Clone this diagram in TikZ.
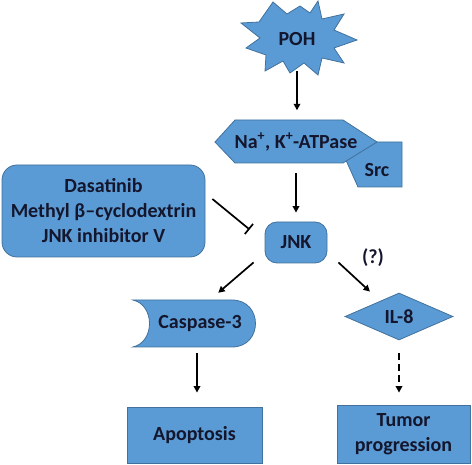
\documentclass[tikz,border=0pt]{standalone}
\usepackage{fontspec}
\setmainfont{Carlito}
\usetikzlibrary{arrows.meta,shapes.geometric}
\definecolor{boxblue}{RGB}{91,155,213}
\definecolor{boxline}{RGB}{65,113,156}
\definecolor{ink}{RGB}{20,22,45}
\begin{document}
\begin{tikzpicture}[x=1pt,y=-1pt]

    \tikzset{
      block/.style={
        draw=boxline,
        fill=boxblue,
        line width=0.8pt,
      },
      txt/.style={
        text=ink,
        font=\fontsize{20}{25}\selectfont\bfseries,
        inner sep=0pt,
        align=center,
      },
      arr/.style={line width=1.7pt, -{Triangle[length=6.5pt,width=6.5pt]}},
      inhib/.style={line width=1.7pt, -{Bar[width=13pt,line width=1.7pt]}},
    }
    \useasboundingbox (0,0) rectangle (472,465);
	% shapes drawn directly
	\draw[block] (241,23)--(259,22)--(273,2)--(287,14)--(300,6)--(310,13)--(318,1)--(322,19)--(344,14)--(334,30)--(357,40)--(334,48)--(344,63)--(322,58)--(318,75)--(304,63)--(290,73)--(283,61)--(265,71)--(266,55)--(246,48)--(260,38)--cycle;
	\draw[block] (340,142)--(402,142)--(402,187)--(358,187)--(345,158)--cycle;
	\draw[block] (215,142)--(235,120)--(343,120)--(377,142)--(343,163)--(235,163)--cycle;
	\draw[block] (133,300)--(232,300) .. controls (263.3,300) and (263.3,347) .. (232,347)--(133,347) .. controls (155,342) and (155,305) .. (133,300)--cycle;
	% nodes
	\node[txt, minimum width=114pt, minimum height=63pt] (poh) at (297,39.5) {POH};
	\node[txt, minimum width=162pt, minimum height=43pt] (nak) at (296,142) {Na\textsuperscript{+}, K\textsuperscript{+}-ATPase};
	\node[txt] (src) at (377,170) {Src};
	\node[txt, block, rounded corners=15pt, minimum width=203pt, minimum height=92pt] (dasa) at (103.5,211) {Dasatinib\\Methyl β–cyclodextrin\\JNK inhibitor V};
	\node[txt, block, rounded corners=12pt, minimum width=62pt, minimum height=41pt] (jnk) at (296,242.5) {JNK};
	\node[txt, minimum width=111pt, minimum height=47pt] (casp) at (200,323.5) {Caspase-3};
	\node[txt, block, diamond, minimum width=108pt, minimum height=47pt] (il8) at (399,316.5) {IL-8};
	\node[txt, block, minimum width=135pt, minimum height=56pt] (apop) at (194.5,435) {Apoptosis};
	\node[txt, block, minimum width=133pt, minimum height=58pt] (tumor) at (403.5,434) {Tumor\\progression};
	\node[txt] (q) at (373,258) {(?)};
	% connectors
	\draw[arr, shorten >=10pt] (poh.south) -- (poh.south |- nak.north);
	\draw[arr, shorten <=9.5pt, shorten >=9pt] (nak.south) -- (jnk.north);
	\draw[inhib] ([shift={(7,-12)}]dasa.east) -- ([shift={(-15,-13)}]jnk.west);
	\draw[arr] ([shift={(-11,-1)}]jnk.south west) -- ([shift={(-37.5,-7)}]casp.north east);
	\draw[arr] ([shift={(11,-1)}]jnk.south east) -- ([shift={(-29,-1)}]il8.north);
	\draw[arr, shorten <=6pt, shorten >=14pt] ([xshift=-3pt]casp.south) -- ([xshift=-3pt]casp.south |- apop.north);
	\draw[arr, dash pattern=on 7pt off 4pt, shorten <=13pt, shorten >=12pt] (il8.south) -- (il8.south |- tumor.north);

\end{tikzpicture}
\end{document}
